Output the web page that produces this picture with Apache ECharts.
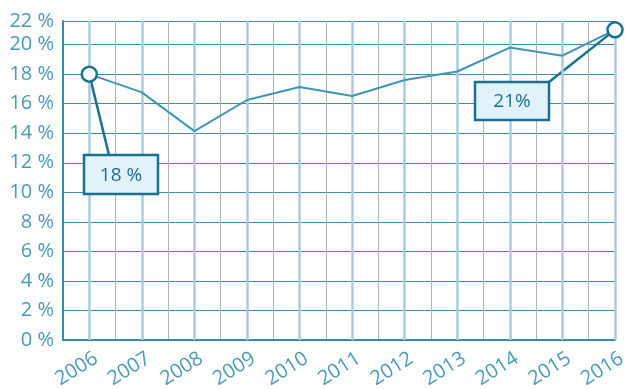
<!DOCTYPE html>
<html>
<head>
<meta charset="utf-8">
<script src="https://cdn.jsdelivr.net/npm/echarts@6/dist/echarts.min.js"></script>
<style>
  html, body { margin: 0; padding: 0; background: #fff; }
  #chart { width: 625px; height: 389px; }
</style>
</head>
<body>
<div id="chart"></div>
<script>
// Yearly share, in percent
const years = [2006, 2007, 2008, 2009, 2010, 2011, 2012, 2013, 2014, 2015, 2016];
const shares = [18, 16.77, 14.14, 16.25, 17.13, 16.52, 17.6, 18.18, 19.8, 19.25, 21];

// Callout labels for the first and last year
const callouts = [
  { year: 2006, value: 18, text: '18 %' },
  { year: 2016, value: 21, text: '21%' }
];

const FONT = '"Open Sans", "Noto Sans", sans-serif';
const LABEL_COLOR = '#4a9aba';
const GRID_TEAL = '#3b8aa7';
const YEAR_LINE = '#a9cbdc';
const HALF_LINE = '#b3b3b3';
const DARK_TEAL = '#17728f';

const chart = echarts.init(document.getElementById('chart'), null, { renderer: 'canvas' });

const lineData = years.map((y, i) => {
  const edge = i === 0 || i === years.length - 1;
  return {
    value: [y, shares[i]],
    symbol: edge ? 'circle' : 'none',
    symbolSize: edge ? 15 : 0
  };
});

chart.setOption({
  animation: false,
  grid: { left: 63, right: 10, top: 21, bottom: 49, containLabel: false, outerBoundsMode: 'none' },
  xAxis: {
    type: 'value',
    min: 2005.5,
    max: 2016,
    interval: 0.5,
    axisLine: { show: true, lineStyle: { color: GRID_TEAL, width: 2 } },
    axisTick: { show: false },
    splitLine: { show: true, lineStyle: { color: HALF_LINE, width: 1 } },
    axisLabel: {
      rotate: 32,
      margin: 21,
      padding: [0, -8, 0, 0],
      color: LABEL_COLOR,
      fontFamily: FONT,
      fontSize: 20,
      showMinLabel: true,
      showMaxLabel: true,
      hideOverlap: false,
      formatter: v => (Number.isInteger(v) ? String(v) : '')
    }
  },
  yAxis: {
    type: 'value',
    min: 0,
    max: 21.6,
    interval: 2,
    axisLine: { show: true, lineStyle: { color: GRID_TEAL, width: 2 } },
    axisTick: { show: false },
    splitLine: { show: true, lineStyle: { color: GRID_TEAL, width: 1 } },
    axisLabel: {
      margin: 9,
      color: LABEL_COLOR,
      fontFamily: FONT,
      fontSize: 20,
      formatter: v => Math.round(v) + ' %'
    }
  },
  series: [
    {
      // vertical guide lines on each year
      type: 'line',
      data: [],
      z: 1,
      silent: true,
      markLine: {
        silent: true,
        symbol: 'none',
        label: { show: false },
        lineStyle: { color: YEAR_LINE, width: 2.5, type: 'solid' },
        data: years.map(y => ({ xAxis: y }))
      }
    },
    {
      type: 'line',
      data: lineData,
      z: 5,
      showSymbol: true,
      lineStyle: { color: '#3f95b3', width: 2 },
      itemStyle: { color: '#ffffff', borderColor: DARK_TEAL, borderWidth: 2.5 }
    }
  ]
});

// Callout boxes with connectors to their points
const boxes = [
  { x: 84, y: 155, w: 74, h: 39, anchorX: 109, anchorY: 155 },
  { x: 475, y: 82, w: 74, h: 38, anchorX: 549, anchorY: 82 }
];
const graphics = [];
callouts.forEach((c, i) => {
  const p = chart.convertToPixel({ xAxisIndex: 0, yAxisIndex: 0 }, [c.year, c.value]);
  const b = boxes[i];
  graphics.push({
    type: 'line',
    z: 4,
    shape: { x1: p[0], y1: p[1], x2: b.anchorX, y2: b.anchorY },
    style: { stroke: DARK_TEAL, lineWidth: 2.5 }
  });
  graphics.push({
    type: 'rect',
    z: 6,
    shape: { x: b.x, y: b.y, width: b.w, height: b.h },
    style: { fill: '#e1f2fa', stroke: DARK_TEAL, lineWidth: 2.5 }
  });
  graphics.push({
    type: 'text',
    z: 7,
    x: b.x + b.w / 2,
    y: b.y + b.h / 2 + 1,
    style: {
      text: c.text,
      fill: '#1d6f8d',
      font: '19px ' + FONT,
      align: 'center',
      verticalAlign: 'middle'
    }
  });
});
chart.setOption({ graphic: graphics });
</script>
</body>
</html>
